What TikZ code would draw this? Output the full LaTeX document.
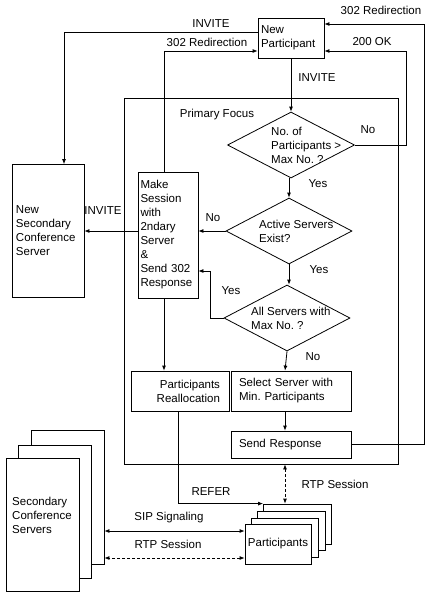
\documentclass[tikz,border=0pt]{standalone}
\usepackage{fontspec}
\setmainfont{Liberation Sans}
\usetikzlibrary{arrows.meta,shapes.geometric}
\frenchspacing
\begin{document}
\begin{tikzpicture}[x=1pt,y=-1pt,
  every node/.style={font=\fontsize{11.5}{14}\selectfont},
  box/.style={draw,line width=0.8pt,fill=white,inner sep=2pt},
  dia/.style={draw,line width=0.8pt,diamond,inner sep=0pt},
  txt/.style={inner sep=0pt},
  conn/.style={line width=0.8pt,-{Latex[length=5pt,width=4pt]}},
  both/.style={line width=0.8pt,{Latex[length=5pt,width=4pt]}-{Latex[length=5pt,width=4pt]}},
  dsh/.style={dash pattern=on 3pt off 2pt}]
\useasboundingbox (0,0) rectangle (426,594);

% primary focus frame
\node[draw,line width=0.8pt,minimum width=274pt,minimum height=366pt,inner sep=0pt] (pf) at (261,281) {};
\node[txt] (pflab) at (217,115) {Primary Focus};

% boxes
\node[box,minimum width=66pt,minimum height=40pt,text width=60pt,align=left] (np) at (291,38) {New\\Participant};
\node[box,minimum width=72pt,minimum height=133pt,text width=64pt,align=left] (nsec) at (48,231) {New\\Secondary\\Conference\\Server};
\node[box,minimum width=60pt,minimum height=126pt,text width=55pt,align=left] (ms) at (168,235) {Make\\Session\\with\\2ndary\\Server\\\&\\Send 302\\Response};
\node[box,minimum width=98pt,minimum height=40pt,text width=80pt,align=right] (pr) at (180,391) {Participants\\Reallocation};
\node[box,minimum width=120pt,minimum height=40pt,text width=104pt,align=left] (sel) at (291,391) {Select Server with\\Min. Participants};
\node[box,minimum width=120pt,minimum height=27pt,text width=104pt,align=left] (send) at (291,444.5) {Send Response};

% decisions
\node[dia,minimum width=127pt,minimum height=66pt] (d1) at (291,145) {};
\node[txt,anchor=west,align=left] (d1t) at (271,145) {No. of\\Participants >\\Max No. ?};
\node[dia,minimum width=126pt,minimum height=66pt] (d2) at (289,231) {};
\node[txt,anchor=west,align=left] (d2t) at (259,231) {Active Servers\\Exist?};
\node[dia,minimum width=126pt,minimum height=66pt] (d3) at (287,318) {};
\node[txt,anchor=west,align=left] (d3t) at (251,318) {All Servers with\\Max No. ?};

% secondary conference servers (stacked)
\node[box,minimum width=73pt,minimum height=134pt] (s3) at (67.5,497) {};
\node[box,minimum width=73pt,minimum height=133pt] (s2) at (54.5,511.5) {};
\node[box,minimum width=73pt,minimum height=133pt] (s1) at (42.5,524.5) {};
\node[txt,anchor=west,align=left] (s1t) at (12,515) {Secondary\\Conference\\Servers};

% participants (stacked)
\node[box,minimum width=68pt,minimum height=40pt] (p3) at (297.5,524) {};
\node[box,minimum width=68pt,minimum height=39pt] (p2) at (291,531) {};
\node[box,minimum width=67pt,minimum height=39pt] (p1) at (284.5,537.5) {};
\node[box,minimum width=66pt,minimum height=40pt] (p0) at (278,544) {Participants};

% helper corners
\coordinate (c200) at (406,51);
\coordinate (c302) at (424,24);
\coordinate (cyes) at (210,271);

% connectors
\draw[conn] ([yshift=6pt]np.west) -| ([xshift=16pt]nsec.north);
\draw[conn] ([xshift=-4pt]ms.north) |- ([yshift=-13pt]np.west);
\draw[conn] (d1.east) -| (c200) -- ([yshift=-13pt]np.east);
\draw[conn] (send.east) -| (c302) -- ([yshift=14pt]np.east);
\draw[conn] (np.south) -- (np.south |- d1.north);
\draw[conn] (d2.north |- d1.south) -- (d2.north);
\draw[conn] (d2.west) -- (d2.west -| ms.east);
\draw[conn] (d2.south) -- (d2.south |- d3.north);
\draw[conn] (d3.west) -| (cyes) -- (cyes -| ms.east);
\draw[conn] ([xshift=-4pt]ms.south) -- ([xshift=-4pt]ms.south |- pr.north);
\draw[conn] (d3.south) -- ([xshift=-2pt]d3.south |- sel.north);
\draw[conn] ([xshift=-6pt]sel.south) -- ([xshift=-6pt]sel.south |- send.north);
\draw[conn] ([yshift=4pt]ms.west) -- ([yshift=4pt]ms.west -| nsec.east);
\draw[conn] ([xshift=-2pt]pr.south) |- (p3.north west);
\draw[both,dsh] ([xshift=-6pt]send.south |- pf.south) -- ([xshift=-6pt]send.south |- p3.north);
\draw[both] ([yshift=13pt]p0.west) -- ([yshift=13pt]p0.west -| s3.east);
\draw[both,dsh] ([yshift=-14pt]p0.west) -- ([yshift=-14pt]p0.west -| s3.east);

% connector labels
\node[txt] (l1) at (211,24) {INVITE};
\node[txt] (l2) at (207,42) {302 Redirection};
\node[txt] (l3) at (381,10) {302 Redirection};
\node[txt] (l4) at (372,42) {200 OK};
\node[txt] (l5) at (317,78) {INVITE};
\node[txt] (l6) at (368,130) {No};
\node[txt] (l7) at (318,184) {Yes};
\node[txt] (l8) at (213,218) {No};
\node[txt] (l9) at (319,270) {Yes};
\node[txt] (l10) at (231,291) {Yes};
\node[txt] (l11) at (313,357) {No};
\node[txt] (l12) at (103,211) {INVITE};
\node[txt] (l13) at (335,484) {RTP Session};
\node[txt] (l14) at (211,492) {REFER};
\node[txt] (l15) at (169,518) {SIP Signaling};
\node[txt] (l16) at (168,544) {RTP Session};
\end{tikzpicture}
\end{document}
